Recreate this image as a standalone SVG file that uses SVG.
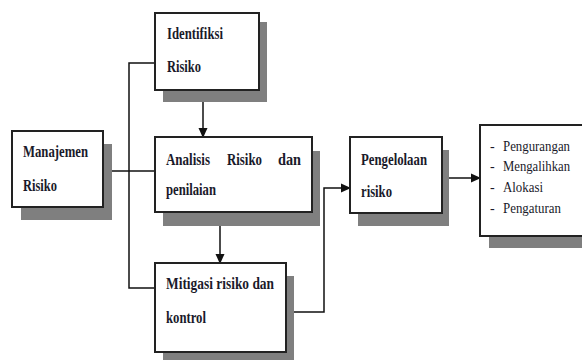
<svg xmlns="http://www.w3.org/2000/svg" width="582" height="360" viewBox="0 0 582 360">
<style>
.sh{fill:#7f7f7f}
.bx{fill:#fff;stroke:#222;stroke-width:2}
.c{fill:none;stroke:#111;stroke-width:1.5}
</style>
<defs>
<marker id="ah" markerWidth="10" markerHeight="10" refX="9" refY="5" orient="auto" markerUnits="userSpaceOnUse">
<path d="M0,0.5 L10,5 L0,9.5 Z" fill="#111"/>
</marker>
</defs>
<rect width="582" height="360" fill="#fff"/>
<g id="connectors">
<path class="c" d="M155,63 H129 V288 H155"/>
<path class="c" d="M103,171 H155"/>
<path class="c" d="M203,90 V137" marker-end="url(#ah)"/>
<path class="c" d="M220,212 V263" marker-end="url(#ah)"/>
<path class="c" d="M286,312 H324 V188 H350" marker-end="url(#ah)"/>
<path class="c" d="M442,178 H480" marker-end="url(#ah)"/>
</g>
<g id="identifikasi">
<rect class="sh" x="163" y="22" width="104" height="80"/>
<rect class="bx" x="155" y="13" width="104" height="77"/>
<text font-family="Liberation Serif" font-weight="bold" font-size="16" fill="#1a1a2a" x="167" y="39" textLength="56" lengthAdjust="spacingAndGlyphs">Identifiksi</text>
<text font-family="Liberation Serif" font-weight="bold" font-size="16" fill="#1a1a2a" x="167" y="72" textLength="34" lengthAdjust="spacingAndGlyphs">Risiko</text>
</g>
<g id="manajemen">
<rect class="sh" x="21" y="144" width="91" height="76"/>
<rect class="bx" x="12" y="131" width="91" height="76"/>
<text font-family="Liberation Serif" font-weight="bold" font-size="16" fill="#1a1a2a" x="23" y="157" textLength="65" lengthAdjust="spacingAndGlyphs">Manajemen</text>
<text font-family="Liberation Serif" font-weight="bold" font-size="16" fill="#1a1a2a" x="23" y="191" textLength="34" lengthAdjust="spacingAndGlyphs">Risiko</text>
</g>
<g id="analisis">
<rect class="sh" x="163" y="151" width="157" height="75"/>
<rect class="bx" x="155" y="137" width="157" height="75"/>
<text font-family="Liberation Serif" font-weight="bold" font-size="16" fill="#1a1a2a" x="166" y="165" textLength="44" lengthAdjust="spacingAndGlyphs">Analisis</text>
<text font-family="Liberation Serif" font-weight="bold" font-size="16" fill="#1a1a2a" x="227" y="165" textLength="35" lengthAdjust="spacingAndGlyphs">Risiko</text>
<text font-family="Liberation Serif" font-weight="bold" font-size="16" fill="#1a1a2a" x="278" y="165" textLength="23" lengthAdjust="spacingAndGlyphs">dan</text>
<text font-family="Liberation Serif" font-weight="bold" font-size="16" fill="#1a1a2a" x="166" y="195" textLength="50" lengthAdjust="spacingAndGlyphs">penilaian</text>
</g>
<g id="mitigasi">
<rect class="sh" x="163" y="276" width="131" height="89"/>
<rect class="bx" x="155" y="263" width="131" height="89"/>
<text font-family="Liberation Serif" font-weight="bold" font-size="16" fill="#1a1a2a" x="166" y="289" textLength="108" lengthAdjust="spacingAndGlyphs">Mitigasi risiko dan</text>
<text font-family="Liberation Serif" font-weight="bold" font-size="16" fill="#1a1a2a" x="166" y="323" textLength="40" lengthAdjust="spacingAndGlyphs">kontrol</text>
</g>
<g id="pengelolaan">
<rect class="sh" x="358" y="150" width="91" height="76"/>
<rect class="bx" x="350" y="137" width="92" height="76"/>
<text font-family="Liberation Serif" font-weight="bold" font-size="16" fill="#1a1a2a" x="361" y="165" textLength="66" lengthAdjust="spacingAndGlyphs">Pengelolaan</text>
<text font-family="Liberation Serif" font-weight="bold" font-size="16" fill="#1a1a2a" x="361" y="197" textLength="31" lengthAdjust="spacingAndGlyphs">risiko</text>
</g>
<g id="list">
<rect class="sh" x="489" y="137" width="100" height="111"/>
<rect class="bx" x="480" y="125" width="110" height="111"/>
<text font-family="Liberation Serif" font-size="14" fill="#1a1a2a" x="490" y="151">-</text>
<text font-family="Liberation Serif" font-size="14" fill="#1a1a2a" x="503" y="151" textLength="67" lengthAdjust="spacingAndGlyphs">Pengurangan</text>
<text font-family="Liberation Serif" font-size="14" fill="#1a1a2a" x="490" y="171">-</text>
<text font-family="Liberation Serif" font-size="14" fill="#1a1a2a" x="503" y="171" textLength="67" lengthAdjust="spacingAndGlyphs">Mengalihkan</text>
<text font-family="Liberation Serif" font-size="14" fill="#1a1a2a" x="490" y="192">-</text>
<text font-family="Liberation Serif" font-size="14" fill="#1a1a2a" x="503" y="192" textLength="40" lengthAdjust="spacingAndGlyphs">Alokasi</text>
<text font-family="Liberation Serif" font-size="14" fill="#1a1a2a" x="490" y="213">-</text>
<text font-family="Liberation Serif" font-size="14" fill="#1a1a2a" x="503" y="213" textLength="58" lengthAdjust="spacingAndGlyphs">Pengaturan</text>
</g>
</svg>
